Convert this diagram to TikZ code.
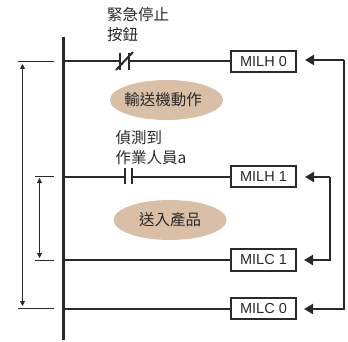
\documentclass[tikz,border=0pt]{standalone}
\usepackage{fontspec}
\setmainfont{Liberation Sans}
\newfontfamily\cjk{Noto Sans CJK TC}
\usetikzlibrary{arrows.meta,shapes.geometric}
\definecolor{inkdark}{HTML}{2B2A29}
\definecolor{tan}{HTML}{D9BFA6}
\tikzset{
  coil/.style={draw=inkdark, line width=2.2pt, fill=white, minimum width=65pt, minimum height=21.5pt, inner sep=0pt, text=inkdark, font=\fontsize{14.5}{14.5}\selectfont},
  task/.style={fill=tan, ellipse, minimum width=113pt, minimum height=40pt, inner sep=0pt, text=inkdark, font=\cjk\fontsize{15.5}{15.5}\selectfont},
  note/.style={anchor=north west, align=left, inner sep=0pt, text=inkdark, font=\cjk\fontsize{15.5}{20}\selectfont},
  rung/.style={draw=inkdark, line width=2pt},
  feed/.style={draw=inkdark, line width=2pt, -{Triangle[length=9pt,width=10pt]}},
  span/.style={draw=inkdark, line width=0.9pt, {Triangle[length=5pt,width=5pt]}-{Triangle[length=5pt,width=5pt]}},
  tick/.style={draw=inkdark, line width=0.8pt}
}
\begin{document}
\begin{tikzpicture}[x=1pt,y=-1pt]
  \useasboundingbox (0,0) rectangle (348,342);

  % Power rail
  \coordinate (T) at (63.5,37);
  \coordinate (B) at (63.5,340);
  \draw[inkdark, line width=2.6pt] (T) -- (B);

  % Output coils
  \node[coil] (H0) at (263.5,61.5) {MILH 0};
  \node[coil] (H1) at (263.5,176.5) {MILH 1};
  \node[coil] (C1) at (263.5,260) {MILC 1};
  \node[coil] (C0) at (263.5,308.5) {MILC 0};

  % Contacts on the two upper rungs
  \coordinate (A1) at (120,61.5);
  \coordinate (A2) at (129,61.5);
  \coordinate (D1) at (125,176.5);
  \coordinate (D2) at (132,176.5);

  \draw[rung] (63.5,61.5) -- (A1);
  \draw[rung] (A2) -- (H0);
  \draw[rung] (63.5,176.5) -- (D1);
  \draw[rung] (D2) -- (H1);
  \draw[rung] (63.5,260) -- (C1);
  \draw[rung] (63.5,308.5) -- (C0);

  \draw[rung] (120,53) -- (120,70);
  \draw[rung] (129,53) -- (129,70);
  \draw[rung] (116,70) -- (133,52);
  \draw[rung] (125,168) -- (125,184);
  \draw[rung] (132,168) -- (132,184);

  % Labels
  \node[note] (L1) at (107,7) {緊急停止\\按鈕};
  \node[note] (L2) at (115.5,130) {偵測到\\作業人員a};
  \node[task] (M1) at (166.5,100) {\kern-7pt輸送機動作};
  \node[task] (M2) at (170,220) {送入產品};

  % Feedback arrows
  \coordinate (R0) at (344,60);
  \coordinate (R1) at (344,309);
  \coordinate (S0) at (330,177);
  \coordinate (S1) at (330,260);
  \draw[feed] (R0) -- (305,60);
  \draw[feed] (R0) -- (R1) -- (304,309);
  \draw[feed] (S0) -- (305,177);
  \draw[feed] (S0) -- (S1) -- (304,260);

  % Spans on the left
  \foreach \y in {61.5,308}
    \draw[tick] (18,\y) -- (54,\y);
  \foreach \y in {176.5,260}
    \draw[tick] (35,\y) -- (54,\y);
  \coordinate (U0) at (22.5,64);
  \coordinate (U1) at (22.5,306);
  \coordinate (V0) at (39.5,178);
  \coordinate (V1) at (39.5,258);
  \draw[span] (U0) -- (U1);
  \draw[span] (V0) -- (V1);
\end{tikzpicture}
\end{document}
